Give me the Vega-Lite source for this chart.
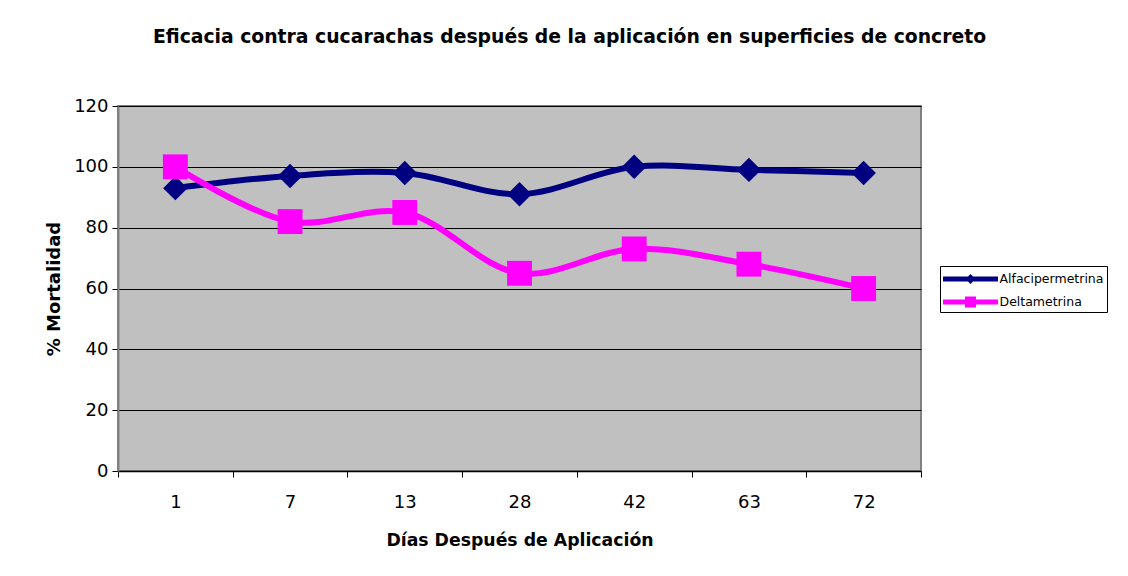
{
  "$schema": "https://vega.github.io/schema/vega-lite/v6.json",
  "width": 803,
  "height": 365,
  "autosize": {"type": "none"},
  "padding": {"left": 118, "top": 106, "right": 207, "bottom": 105},
  "background": "white",
  "title": {
    "text": "Eficacia contra cucarachas después de la aplicación en superficies de concreto",
    "font": "DejaVu Sans",
    "fontSize": 18.8,
    "fontWeight": "bold",
    "color": "black",
    "anchor": "middle",
    "frame": "group",
    "dx": 50,
    "offset": 50
  },
  "config": {
    "view": {"fill": "#C0C0C0", "stroke": "#808080", "strokeWidth": 2},
    "axis": {"labelFont": "DejaVu Sans", "titleFont": "DejaVu Sans", "labelColor": "black", "titleColor": "black"}
  },
  "data": {
    "values": [
      {"dia": "1", "serie": "Alfacipermetrina", "mortalidad": 93},
      {"dia": "7", "serie": "Alfacipermetrina", "mortalidad": 97},
      {"dia": "13", "serie": "Alfacipermetrina", "mortalidad": 98},
      {"dia": "28", "serie": "Alfacipermetrina", "mortalidad": 91},
      {"dia": "42", "serie": "Alfacipermetrina", "mortalidad": 100},
      {"dia": "63", "serie": "Alfacipermetrina", "mortalidad": 99},
      {"dia": "72", "serie": "Alfacipermetrina", "mortalidad": 98},
      {"dia": "1", "serie": "Deltametrina", "mortalidad": 100},
      {"dia": "7", "serie": "Deltametrina", "mortalidad": 82},
      {"dia": "13", "serie": "Deltametrina", "mortalidad": 85},
      {"dia": "28", "serie": "Deltametrina", "mortalidad": 65},
      {"dia": "42", "serie": "Deltametrina", "mortalidad": 73},
      {"dia": "63", "serie": "Deltametrina", "mortalidad": 68},
      {"dia": "72", "serie": "Deltametrina", "mortalidad": 60}
    ]
  },
  "encoding": {
    "x": {
      "field": "dia",
      "type": "ordinal",
      "sort": null,
      "scale": {"type": "band", "paddingInner": 0, "paddingOuter": 0},
      "axis": {
        "title": "Días Después de Aplicación",
        "titleFontSize": 17.3,
        "titleFontWeight": "bold",
        "titlePadding": 20,
        "labelAngle": 0,
        "labelFontSize": 18,
        "labelPadding": 16,
        "tickBand": "extent",
        "tickSize": 6,
        "tickColor": "black",
        "domainColor": "black",
        "domainWidth": 1.5,
        "grid": false
      }
    },
    "y": {
      "field": "mortalidad",
      "type": "quantitative",
      "scale": {"domain": [0, 120]},
      "axis": {
        "title": "% Mortalidad",
        "titleFontSize": 18,
        "titleFontWeight": "bold",
        "titlePadding": 10,
        "values": [0, 20, 40, 60, 80, 100, 120],
        "labelFontSize": 18,
        "labelPadding": 4,
        "tickSize": 6,
        "tickColor": "black",
        "domainColor": "#808080",
        "domainWidth": 2,
        "grid": true,
        "gridColor": "black",
        "gridWidth": 1
      }
    }
  },
  "layer": [
    {
      "transform": [{"filter": "datum.serie === 'Alfacipermetrina'"}],
      "mark": {"type": "line", "interpolate": "catmull-rom", "strokeWidth": 6, "color": "#000080"}
    },
    {
      "transform": [{"filter": "datum.serie === 'Deltametrina'"}],
      "mark": {"type": "line", "interpolate": "catmull-rom", "strokeWidth": 6, "color": "#FF00FF"}
    },
    {
      "transform": [{"filter": "datum.serie === 'Alfacipermetrina'"}],
      "mark": {"type": "point", "shape": "diamond", "filled": true, "opacity": 1, "size": 600, "color": "#000080"}
    },
    {
      "transform": [{"filter": "datum.serie === 'Deltametrina'"}],
      "mark": {"type": "point", "shape": "square", "filled": true, "opacity": 1, "size": 620, "color": "#FF00FF"}
    },
    {
      "mark": {"type": "point", "filled": true, "opacity": 0, "size": 400},
      "encoding": {
        "color": {
          "field": "serie",
          "type": "nominal",
          "scale": {"domain": ["Alfacipermetrina", "Deltametrina"], "range": ["#000080", "#FF00FF"]}
        },
        "shape": {
          "field": "serie",
          "type": "nominal",
          "scale": {
            "domain": ["Alfacipermetrina", "Deltametrina"],
            "range": [
              "M-2.75,-0.25L-0.25,-0.25L0,-0.5L0.25,-0.25L2.75,-0.25L2.75,0.25L0.25,0.25L0,0.5L-0.25,0.25L-2.75,0.25Z",
              "M-2.75,-0.25L-0.55,-0.25L-0.55,-0.55L0.55,-0.55L0.55,-0.25L2.75,-0.25L2.75,0.25L0.55,0.25L0.55,0.55L-0.55,0.55L-0.55,0.25L-2.75,0.25Z"
            ]
          },
          "legend": {
            "title": null,
            "orient": "none",
            "legendX": 822,
            "legendY": 160,
            "symbolSize": 400,
            "symbolOffset": 17.5,
            "symbolOpacity": 1,
            "symbolStrokeWidth": 0,
            "labelFont": "DejaVu Sans",
            "labelFontSize": 12.5,
            "labelColor": "black",
            "labelOffset": 19,
            "labelLimit": 130,
            "rowPadding": 6,
            "padding": 3,
            "strokeColor": "black",
            "fillColor": "white"
          }
        }
      }
    }
  ]
}
